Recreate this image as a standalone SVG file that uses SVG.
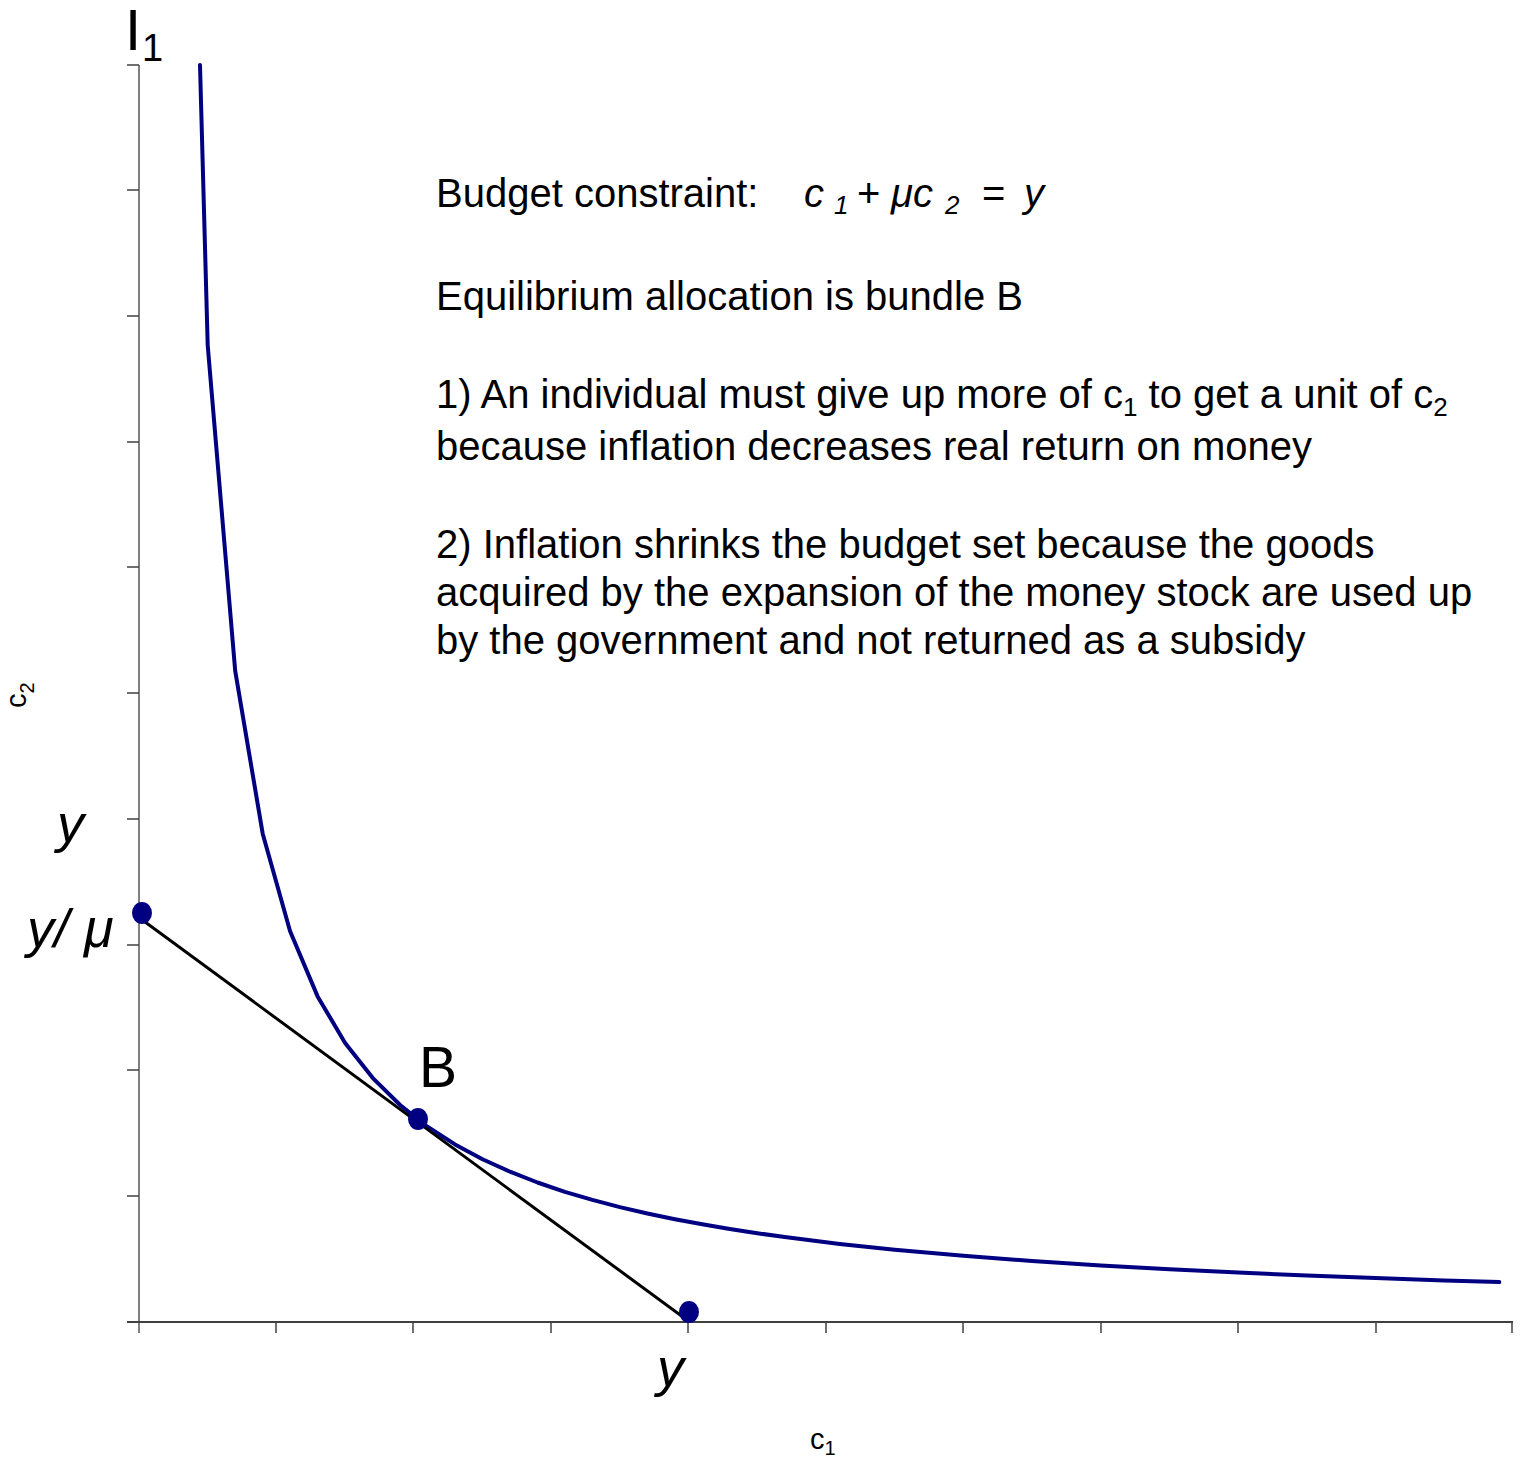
<svg xmlns="http://www.w3.org/2000/svg" width="1523" height="1458" viewBox="0 0 1523 1458">
<style>
text { font-family: "Liberation Sans", Arial, sans-serif; fill: #000; }
.body { font-size: 40px; }
.it { font-style: italic; }
.axis { stroke: #808080; stroke-width: 2; fill: none; }
.xaxis { stroke: #404040; stroke-width: 2; fill: none; }
.tick { stroke: #404040; stroke-width: 1.5; }
.dot { fill: #000080; }
</style>
<rect width="1523" height="1458" fill="#fff"/>
<g id="axes">
  <line class="axis" x1="139" y1="65" x2="139" y2="1333"/>
  <line class="xaxis" x1="127" y1="1322" x2="1513" y2="1322"/>
  <g class="tick">
    <line x1="127" y1="65" x2="139" y2="65"/>
    <line x1="127" y1="190" x2="139" y2="190"/>
    <line x1="127" y1="316" x2="139" y2="316"/>
    <line x1="127" y1="442" x2="139" y2="442"/>
    <line x1="127" y1="567" x2="139" y2="567"/>
    <line x1="127" y1="693" x2="139" y2="693"/>
    <line x1="127" y1="819" x2="139" y2="819"/>
    <line x1="127" y1="945" x2="139" y2="945"/>
    <line x1="127" y1="1070" x2="139" y2="1070"/>
    <line x1="127" y1="1196" x2="139" y2="1196"/>
    <line x1="276" y1="1322" x2="276" y2="1333"/>
    <line x1="413" y1="1322" x2="413" y2="1333"/>
    <line x1="551" y1="1322" x2="551" y2="1333"/>
    <line x1="688" y1="1322" x2="688" y2="1333"/>
    <line x1="826" y1="1322" x2="826" y2="1333"/>
    <line x1="963" y1="1322" x2="963" y2="1333"/>
    <line x1="1101" y1="1322" x2="1101" y2="1333"/>
    <line x1="1238" y1="1322" x2="1238" y2="1333"/>
    <line x1="1376" y1="1322" x2="1376" y2="1333"/>
    <line x1="1512" y1="1322" x2="1512" y2="1333"/>
  </g>
</g>
<g id="connectors">
  <polyline id="indifference-curve" fill="none" stroke="#000080" stroke-width="4" stroke-linejoin="round" stroke-linecap="round"
    points="200,65 207.7,345.3 235.2,670.9 262.7,833.7 290.1,931.3 317.6,996.4 345.1,1042.9 372.6,1077.8 400.1,1105 427.5,1126.7 455,1144.4 482.5,1159.2 510,1171.7 537.5,1182.5 564.9,1191.8 592.4,1199.9 619.9,1207.1 647.4,1213.5 674.9,1219.2 702.3,1224.3 729.8,1229 757.3,1233.2 784.8,1237.1 812.3,1240.6 839.7,1243.9 894.7,1249.7 963.4,1255.8 1032.1,1261 1100.8,1265.4 1169.5,1269.2 1238.2,1272.5 1306.9,1275.5 1375.6,1278.1 1444.3,1280.4 1499.3,1282.1"/>
  <line id="budget-line" x1="141" y1="919" x2="687" y2="1320" stroke="#000" stroke-width="3"/>
</g>
<g id="point-y-mu"><ellipse class="dot" cx="142" cy="913" rx="10" ry="11"/></g>
<g id="point-B"><ellipse class="dot" cx="418" cy="1119" rx="10" ry="11"/></g>
<g id="point-y"><ellipse class="dot" cx="689" cy="1312" rx="10" ry="11"/></g>
<g id="label-I1"><text x="125" y="50" font-size="58">I</text><text x="142" y="61" font-size="38">1</text></g>
<g id="label-B"><text x="419" y="1087" font-size="57">B</text></g>
<g id="label-y-left"><text class="it" x="57" y="842" font-size="54">y</text></g>
<g id="label-y-mu"><text class="it" x="27" y="947" font-size="54">y/ μ</text></g>
<g id="label-y-bottom"><text class="it" x="657" y="1386" font-size="54">y</text></g>
<g id="label-c1"><text x="810" y="1449" font-size="29">c<tspan font-size="20" dy="6">1</tspan></text></g>
<g id="label-c2"><text transform="translate(26,708) rotate(-90)" font-size="29">c<tspan font-size="20" dy="8">2</tspan></text></g>
<g id="text-block" class="body">
  <text class="body" x="436" y="207">Budget constraint:</text>
  <text class="body it" x="804" y="207">c</text>
  <text class="it" x="834" y="214" font-size="26">1</text>
  <text class="body" x="857" y="207">+</text>
  <text class="body it" x="891" y="207">μc</text>
  <text class="it" x="945" y="214" font-size="26">2</text>
  <text class="body" x="982" y="207">=</text>
  <text class="body it" x="1024" y="207">y</text>
  <text class="body" x="436" y="310">Equilibrium allocation is bundle B</text>
  <text class="body" x="436" y="408">1) An individual must give up more of c<tspan font-size="26" dy="8">1</tspan><tspan dy="-8"> to get a unit of c</tspan><tspan font-size="26" dy="8">2</tspan></text>
  <text class="body" x="436" y="460">because inflation decreases real return on money</text>
  <text class="body" x="436" y="558">2) Inflation shrinks the budget set because the goods</text>
  <text class="body" x="436" y="606">acquired by the expansion of the money stock are used up</text>
  <text class="body" x="436" y="654">by the government and not returned as a subsidy</text>
</g>
</svg>
